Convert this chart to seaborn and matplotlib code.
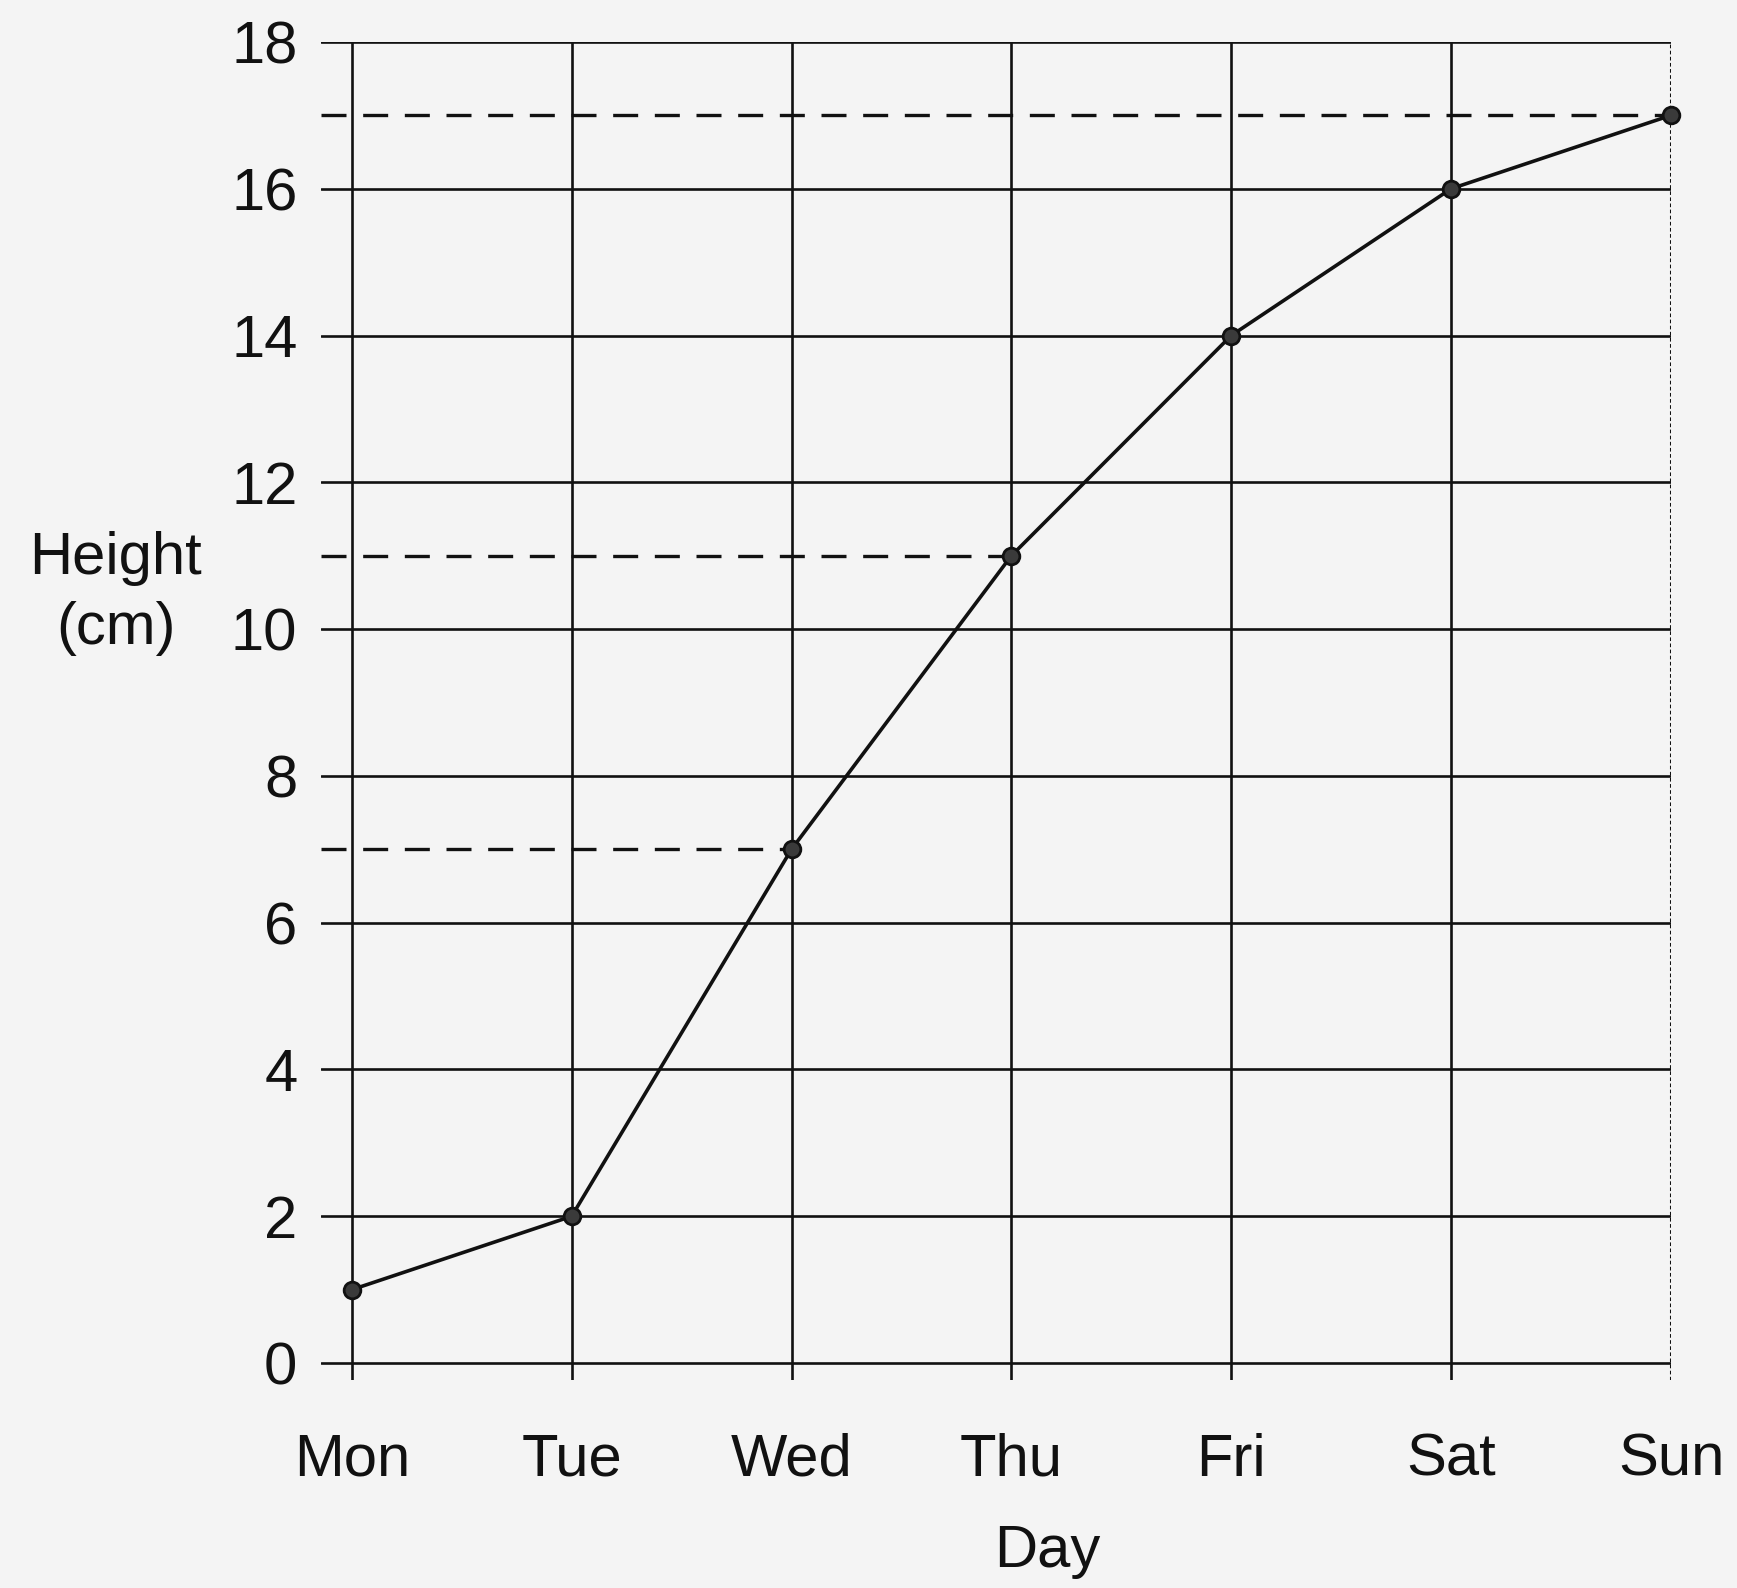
import numpy as np
import pandas as pd
import seaborn as sns
import matplotlib.pyplot as plt

# data
days = ['Mon', 'Tue', 'Wed', 'Thu', 'Fri', 'Sat', 'Sun']
heights = [1, 2, 7, 11, 14, 16, 17]
dashed_days = ['Wed', 'Thu', 'Sun']   # readings marked with dashed guide lines
y_ticks = [0, 2, 4, 6, 8, 10, 12, 14, 16, 18]

df = pd.DataFrame({'Day': days, 'Height': heights})

sns.set_theme(style='white')
plt.rcParams['font.family'] = ['Liberation Sans', 'DejaVu Sans']

bg = '#f4f4f4'
ink = '#111111'

fig = plt.figure(figsize=(17.37, 15.88), dpi=100, facecolor=bg)
ax = fig.add_axes([0.1848, 0.131, 0.962 - 0.1848, 0.9736 - 0.131])
ax.set_facecolor(bg)

sns.lineplot(data=df, x='Day', y='Height', sort=False, ax=ax,
             color=ink, linewidth=2.6, marker='o', markersize=12,
             markerfacecolor='#3a3a3a', markeredgecolor=ink,
             markeredgewidth=2, zorder=5, clip_on=False)

ax.set_xlim(-0.14, len(days) - 1)
ax.set_ylim(-0.23, 18)
ax.set_yticks(y_ticks)

# grid like the printed one
ax.grid(True, color=ink, linewidth=1.9)
ax.set_axisbelow(True)
ax.get_xgridlines()[-1].set_linestyle((0, (1.2, 0.8)))
ax.get_xgridlines()[-1].set_linewidth(2.2)
for s in ax.spines.values():
    s.set_visible(False)

# dashed guides from the y axis to selected readings
left = ax.get_xlim()[0]
for d in dashed_days:
    i = days.index(d)
    ax.hlines(heights[i], left, i, colors=ink, linewidth=2.4,
              linestyles=(0, (7.5, 5)), zorder=4)

ax.tick_params(axis='both', length=0, labelsize=43, colors=ink)
ax.tick_params(axis='x', pad=38)
ax.tick_params(axis='y', pad=17)

ax.set_xlabel('Day', fontsize=43, color=ink)
ax.xaxis.label.set_va('center')
ax.xaxis.set_label_coords(0.538, -0.128)

ax.set_ylabel('Height\n(cm)', fontsize=43, color=ink, rotation=0,
              ha='center', va='center', linespacing=1.35)
ax.yaxis.set_label_coords(-0.152, 0.588)

fig.savefig('out.png', dpi=100, facecolor=bg)
